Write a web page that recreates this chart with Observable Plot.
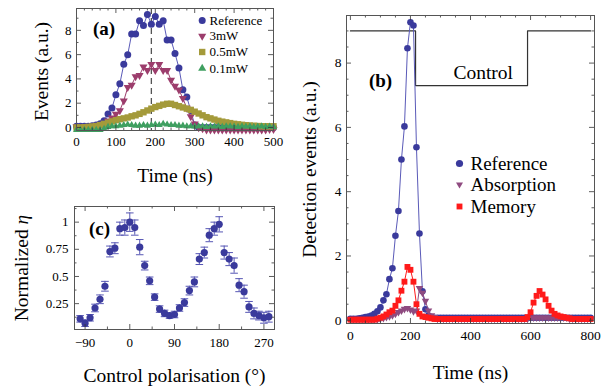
<!DOCTYPE html>
<html><head><meta charset="utf-8">
<script src="https://cdn.jsdelivr.net/npm/d3@7"></script>
<script src="https://cdn.jsdelivr.net/npm/@observablehq/plot@0.6"></script>
<style>
body{margin:0;background:#fff}
#root{position:relative;width:607px;height:387px;overflow:hidden;background:#fff;font-family:'Liberation Serif','Times New Roman',serif}
.panel{position:absolute}
#root svg, #root svg text{font-family:'Liberation Serif','Times New Roman',serif !important}
</style></head><body><div id="root"></div>
<script>
// ---------- Panel (a) data ----------
const timeA = d3.range(0, 501, 10);
const refA = [0.1,0.1,0.1,0.1,0.15,0.2,0.3,0.55,1.1,1.6,2.7,3.6,5.2,6.0,7.7,7.7,8.8,8.4,9.3,8.5,9.15,8.5,8.8,7.2,7.2,6.1,4.9,3.1,2.5,1.4,0.2,0.0,
  0.0,0.0,0.0,0.0,0.0,0.0,0.0,0.0,0.0,0.0,0.0,0.0,0.0,0.0,0.0,0.0,0.0,0.0,0.0];
const mw3A = [0.05,0.05,0.05,0.05,0.1,0.15,0.2,0.3,0.55,0.8,1.1,1.4,2.2,3.3,3.5,4.2,4.3,5.0,4.7,5.2,4.7,5.2,4.7,4.7,3.9,3.4,3.1,2.4,1.6,0.9,0.3,0.0,-0.1,
  -0.2,-0.2,-0.2,-0.2,-0.2,-0.2,-0.2,-0.2,-0.2,-0.2,-0.2,-0.2,-0.2,-0.2,-0.2,-0.2,-0.15,-0.15];
const mw05A = [0.0,0.0,0.02,0.05,0.08,0.12,0.2,0.3,0.4,0.5,0.6,0.68,0.75,0.82,0.92,1.0,1.12,1.25,1.4,1.55,1.68,1.78,1.88,1.95,1.95,1.85,1.75,1.65,1.55,1.45,1.3,1.15,1.0,0.85,0.75,0.65,0.55,0.48,0.42,0.36,0.3,0.26,0.22,0.19,0.16,0.14,0.12,0.1,0.1,0.1,0.1];
const mw01A = [-0.2,-0.2,-0.2,-0.2,-0.2,-0.2,-0.2,-0.1,0.05,0.1,0.1,0.15,0.2,0.25,0.2,0.15,0.15,0.2,0.15,0.2,0.25,0.2,0.3,0.25,0.2,0.2,0.15,0.15,0.1,
  0.1,0.08,0.1,0.1,0.05,0.1,0.08,0.1,0.05,0.1,0.1,0.08,0.05,0.1,0.08,0.1,0.05,0.08,0.1,0.05,0.08,0.05];
const dashedAt = [190];
const seriesA = ["Reference", "3mW", "0.5mW", "0.1mW"];

// ---------- Panel (b) data ----------
const timeB = d3.range(0, 801, 10);
const refB = [0.05,0.05,0.05,0.06,0.08,0.1,0.12,0.15,0.2,0.28,0.4,0.62,0.81,1.28,1.62,2.63,3.4,5.0,6.03,8.46,9.27,9.17,5.38,2.7,0.9,0.34,0.15,0.1,
  0.08,0.08,0.08,0.08,0.08,0.08,0.08,0.08,0.08,0.08,0.08,0.08,0.08,0.08,0.08,0.08,0.08,0.08,0.08,0.08,0.08,0.08,0.08,0.08,0.08,0.08,0.08,0.08,0.08,
  0.08,0.08,0.08,0.08,0.08,0.08,0.08,0.08,0.08,0.08,0.08,0.08,0.08,0.08,0.08,0.08,0.08,0.08,0.08,0.08,0.08,0.08,0.08,0.08];
const absB = [0.03,0.03,0.03,0.03,0.03,0.03,0.03,0.03,0.03,0.03,
  0.05,0.07,0.1,0.12,0.15,0.2,0.25,0.3,0.35,0.38,0.33,0.28,0.3,1.0,0.85,0.6,0.3,0.15,0.1,
  0.04,0.04,0.04,0.04,0.04,0.04,0.04,0.04,0.04,0.04,0.04,0.04,0.04,0.04,0.04,0.04,0.04,0.04,0.04,0.04,0.04,0.04,0.04,0.04,0.04,0.04,0.04,0.04,0.04,0.04,0.04,
  0.08,0.08,0.08,0.08,0.08,0.08,0.08,0.08,0.08,0.08,0.08,0.08,0.08,
  0.04,0.04,0.04,0.04,0.04,0.04,0.04,0.04];
const memB = [0.02,0.02,0.02,0.02,0.02,0.02,0.02,0.02,0.02,
  0.05,0.08,0.12,0.18,0.25,0.3,0.45,0.62,0.92,1.2,1.66,1.57,1.2,0.5,0.2,0.12,0.1,0.08,0.06,
  0.04,0.04,0.04,0.04,0.04,0.04,0.04,0.04,0.04,0.04,0.04,0.04,0.04,0.04,0.04,0.04,0.04,0.04,0.04,0.04,0.04,0.04,0.04,0.04,0.04,0.04,0.04,0.04,0.04,0.04,0.04,
  0.1,0.25,0.55,0.76,0.91,0.8,0.65,0.45,0.3,0.2,0.15,0.12,0.1,0.08,0.06,
  0.04,0.04,0.04,0.04,0.04,0.04,0.04];
const controlT = [0, 217, 217, 590, 590, 800];
const controlV = [9, 9, 7.3, 7.3, 9, 9];
const seriesB = ["Reference", "Absorption", "Memory"];

// ---------- Panel (c) data ----------
const angleC = d3.range(-100, 281, 10);
const etaC = [0.11,0.07,0.12,0.21,0.29,0.41,0.73,0.76,0.94,0.95,1.0,0.95,0.77,0.60,0.46,0.31,0.20,0.16,0.14,0.15,0.21,0.26,0.37,0.45,0.66,0.72,0.88,0.94,0.98,0.72,0.66,0.60,0.42,0.36,0.22,0.16,0.14,0.12,0.13];
const errC = [0.03,0.03,0.03,0.035,0.04,0.045,0.05,0.05,0.06,0.07,0.085,0.07,0.07,0.04,0.035,0.03,0.03,0.03,0.025,0.03,0.03,0.035,0.04,0.045,0.05,0.05,0.06,0.06,0.07,0.06,0.06,0.07,0.06,0.06,0.05,0.05,0.04,0.05,0.05];

// ---------- styling ----------
const FONT = "Liberation Serif";
const C = {
  ref: "#3a3a9c", refLine: "#5a5ab8",
  mw3: "#9c3d6c", mw05: "#a49a3a", mw01: "#3f9f60",
  abs: "#8f4b80", mem: "#ff1a1a", ctrl: "#333",
  err: "#5656b4"
};
const root = document.getElementById("root");

function place(el, left, top) {
  const d = document.createElement("div");
  d.className = "panel";
  d.style.left = left + "px"; d.style.top = top + "px";
  d.appendChild(el);
  root.appendChild(d);
}

function frameTicks(xMaj, xMin, yMaj, yMin, iw, ih) {
  const s = {stroke: "#333", strokeWidth: 0.8};
  const L = 5, l = 2.5;
  return [
    Plot.tickX(xMaj, {x: d => d, insetTop: ih - L, ...s}),
    Plot.tickX(xMaj, {x: d => d, insetBottom: ih - L, ...s}),
    Plot.tickX(xMin, {x: d => d, insetTop: ih - l, ...s}),
    Plot.tickX(xMin, {x: d => d, insetBottom: ih - l, ...s}),
    Plot.tickY(yMaj, {y: d => d, insetRight: iw - L, ...s}),
    Plot.tickY(yMaj, {y: d => d, insetLeft: iw - L, ...s}),
    Plot.tickY(yMin, {y: d => d, insetRight: iw - l, ...s}),
    Plot.tickY(yMin, {y: d => d, insetLeft: iw - l, ...s}),
    Plot.frame({stroke: "#555", strokeWidth: 1})
  ];
}
const fmtNum = d => d < 0 ? "\u2212" + Math.abs(d) : String(d);
const hline = {draw(ctx, size) { const r = Math.sqrt(size / Math.PI); ctx.moveTo(-r, 0); ctx.lineTo(r, 0); }};
// a single text placed relative to the frame's top-left corner (pixels)
const label = (s, dx, dy, o = {}) => Plot.text([s], {frameAnchor: "top-left", dx, dy, text: d => d, textAnchor: "middle", lineAnchor: "middle", fontFamily: FONT, fill: "black", ...o});
const axisOpts = {tickSize: 0, fontFamily: FONT, fill: "black", label: null};

// ---------- Panel (a) ----------
{
  const W = 300, H = 190, m = {l: 76, r: 27, t: 8, b: 60};
  const iw = W - m.l - m.r, ih = H - m.t - m.b;
  const xd = [0, 500], yd = [-0.25, 9.8];
  const rows = timeA.map((t, i) => ({t, ref: refA[i], m3: mw3A[i], m05: mw05A[i], m01: mw01A[i]}));
  const xMaj = d3.range(0, 501, 100), xMin = d3.range(0, 501, 20).filter(v => v % 100);
  const yMaj = d3.range(0, 9, 2), yMin = d3.range(1, 10, 1).filter(v => v % 2);
  const legY = [12, 27.5, 43.5, 60];
  const legSym = [
    {symbol: "circle", fill: C.ref, r: 3.5, rotate: 0},
    {symbol: "triangle", fill: C.mw3, r: 3, rotate: 180},
    {symbol: "square", fill: C.mw05, r: 3.6, rotate: 0},
    {symbol: "triangle", fill: C.mw01, r: 3, rotate: 0}
  ];
  const p = Plot.plot({
    width: W, height: H, marginLeft: m.l, marginRight: m.r, marginTop: m.t, marginBottom: m.b,
    style: {fontFamily: FONT, fontSize: "13px", color: "black", background: "transparent", overflow: "visible"},
    x: {domain: xd}, y: {domain: yd},
    marks: [
      Plot.ruleX(dashedAt, {x: d => d, stroke: "#555", strokeWidth: 1.3, strokeDasharray: "6,4"}),
      Plot.line(rows, {x: "t", y: "ref", stroke: C.refLine, strokeWidth: 1}),
      Plot.dot(rows, {x: "t", y: "ref", fill: C.ref, r: 3.5, symbol: "circle"}),
      Plot.line(rows, {x: "t", y: "m3", stroke: C.mw3, strokeWidth: 1}),
      Plot.dot(rows, {x: "t", y: "m3", fill: C.mw3, r: 3, symbol: "triangle", rotate: 180}),
      Plot.line(rows, {x: "t", y: "m05", stroke: C.mw05, strokeWidth: 1}),
      Plot.dot(rows, {x: "t", y: "m05", fill: C.mw05, r: 3.6, symbol: "square"}),
      Plot.line(rows, {x: "t", y: "m01", stroke: C.mw01, strokeWidth: 1}),
      Plot.dot(rows, {x: "t", y: "m01", fill: C.mw01, r: 2.6, symbol: "triangle"}),
      ...frameTicks(xMaj, xMin, yMaj, yMin, iw, ih),
      Plot.axisX({...axisOpts, ticks: xMaj, tickPadding: 6, tickFormat: fmtNum, fontSize: 13}),
      Plot.axisY({...axisOpts, ticks: yMaj, tickPadding: 5, tickFormat: fmtNum, fontSize: 13}),
      ...seriesA.map((s, i) => Plot.dot([s], {frameAnchor: "top-left", dx: 125.7, dy: legY[i], ...legSym[i]})),
      ...seriesA.map((s, i) => label(s, 133, legY[i], {textAnchor: "start", fontSize: 13})),
      label("(a)", 27.5, 20, {fontWeight: "bold", fontSize: 19}),
      label("Time (ns)", iw / 2, ih + 45, {fontSize: 19.5}),
      label("Events (a.u.)", -35, ih / 2 + 2, {rotate: -90, fontSize: 19.5})
    ]
  });
  place(p, 0, 0);
}

// ---------- Panel (b) ----------
{
  const W = 307, H = 387, m = {l: 46, r: 13, t: 15, b: 64};
  const iw = W - m.l - m.r, ih = H - m.t - m.b;
  const xd = [-13, 813], yd = [-0.1, 9.48];
  const rows = timeB.map((t, i) => ({t, ref: refB[i], abs: absB[i], mem: memB[i]}));
  const ctrl = controlT.map((t, i) => ({t, v: controlV[i]}));
  const xMaj = d3.range(0, 801, 200), xMin = d3.range(0, 801, 50).filter(v => v % 200);
  const yMaj = d3.range(0, 9, 2), yMin = d3.range(0.5, 9.5, 0.5).filter(v => v % 2);
  const legY = [148, 169, 191];
  const legSym = [
    {symbol: "circle", fill: C.ref, r: 3.6, rotate: 0},
    {symbol: "triangle", fill: C.abs, r: 2.6, rotate: 180},
    {symbol: "square", fill: C.mem, r: 3.3, rotate: 0}
  ];
  const p = Plot.plot({
    width: W, height: H, marginLeft: m.l, marginRight: m.r, marginTop: m.t, marginBottom: m.b,
    style: {fontFamily: FONT, fontSize: "13px", color: "black", background: "transparent", overflow: "visible"},
    x: {domain: xd}, y: {domain: yd},
    marks: [
      Plot.line(ctrl, {x: "t", y: "v", stroke: C.ctrl, strokeWidth: 1.2}),
      Plot.line(rows, {x: "t", y: "ref", stroke: C.refLine, strokeWidth: 1}),
      Plot.dot(rows, {x: "t", y: "ref", fill: C.ref, r: 3.3, symbol: "circle"}),
      Plot.line(rows, {x: "t", y: "abs", stroke: C.abs, strokeWidth: 1}),
      Plot.dot(rows, {x: "t", y: "abs", fill: C.abs, r: 2.8, symbol: "triangle", rotate: 180}),
      Plot.line(rows, {x: "t", y: "mem", stroke: C.mem, strokeWidth: 1}),
      Plot.dot(rows, {x: "t", y: "mem", fill: C.mem, r: 3.3, symbol: "square"}),
      ...frameTicks(xMaj, xMin, yMaj, yMin, iw, ih),
      Plot.axisX({...axisOpts, ticks: xMaj, tickPadding: 7, tickFormat: fmtNum, fontSize: 13.5}),
      Plot.axisY({...axisOpts, ticks: yMaj, tickPadding: 5, tickFormat: fmtNum, fontSize: 13.5}),
      ...seriesB.map((s, i) => Plot.dot([s], {frameAnchor: "top-left", dx: 113, dy: legY[i], ...legSym[i]})),
      ...seriesB.map((s, i) => label(s, 124, legY[i], {textAnchor: "start", fontSize: 19})),
      label("Control", 136.7, 57, {fontSize: 19.5}),
      label("(b)", 34, 65, {fontWeight: "bold", fontSize: 19}),
      label("Time (ns)", iw / 2, ih + 49, {fontSize: 19.5}),
      label("Detection events (a.u.)", -37, ih / 2, {rotate: -90, fontSize: 19.5})
    ]
  });
  place(p, 300, 0);
}

// ---------- Panel (c) ----------
{
  const W = 300, H = 197, m = {l: 74, r: 26, t: 16, b: 58};
  const iw = W - m.l - m.r, ih = H - m.t - m.b;
  const xd = [-111.3, 291.3], yd = [0.012, 1.144];
  const rows = angleC.map((a, i) => ({a, e: etaC[i], lo: etaC[i] - errC[i], hi: etaC[i] + errC[i]}));
  const xMaj = [-90, 0, 90, 180, 270], xMin = [-45, 45, 135, 225];
  const yMaj = [0.25, 0.5, 0.75, 1], yMin = [0.125, 0.375, 0.625, 0.875, 1.125];
  const p = Plot.plot({
    width: W, height: H, marginLeft: m.l, marginRight: m.r, marginTop: m.t, marginBottom: m.b,
    style: {fontFamily: FONT, fontSize: "13px", color: "black", background: "transparent", overflow: "visible"},
    x: {domain: xd}, y: {domain: yd},
    marks: [
      Plot.ruleX(rows, {x: "a", y1: "lo", y2: "hi", stroke: C.err, strokeWidth: 1}),
      Plot.dot(rows, {x: "a", y: "lo", symbol: hline, r: 3.8, stroke: C.err, strokeWidth: 1, fill: "none"}),
      Plot.dot(rows, {x: "a", y: "hi", symbol: hline, r: 3.8, stroke: C.err, strokeWidth: 1, fill: "none"}),
      Plot.dot(rows, {x: "a", y: "e", fill: C.ref, r: 3.6, symbol: "circle"}),
      ...frameTicks(xMaj, xMin, yMaj, yMin, iw, ih),
      Plot.axisX({...axisOpts, ticks: xMaj, tickPadding: 8, tickFormat: fmtNum, fontSize: 13}),
      Plot.axisY({...axisOpts, ticks: yMaj, tickPadding: 6, tickFormat: d => String(d), fontSize: 13}),
      label("(c)", 25, 22, {fontWeight: "bold", fontSize: 19}),
      label("Control polarisation (\u00b0)", iw / 2, ih + 46, {fontSize: 19.5}),
      label("Normalized \u03b7", -53, ih / 2, {rotate: -90, fontSize: 19.5})
    ]
  });
  place(p, 0, 190);
}
// italicize eta
document.querySelectorAll("text").forEach(t => {
  if (t.textContent === "Normalized \u03b7") {
    t.textContent = "";
    const a = document.createElementNS("http://www.w3.org/2000/svg", "tspan"); a.textContent = "Normalized ";
    const b = document.createElementNS("http://www.w3.org/2000/svg", "tspan"); b.textContent = "\u03b7"; b.setAttribute("font-style", "italic");
    t.appendChild(a); t.appendChild(b);
  }
});
</script>
</body></html>
